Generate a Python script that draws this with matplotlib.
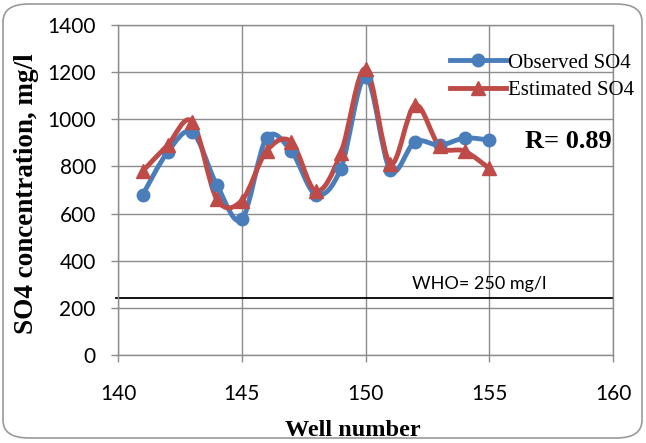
import numpy as np
import matplotlib
matplotlib.use("Agg")
import matplotlib.pyplot as plt
from matplotlib.path import Path
from matplotlib.patches import PathPatch, FancyBboxPatch
from matplotlib.lines import Line2D

# well numbers and SO4 values (mg/l)
wells = [141, 142, 143, 144, 145, 146, 147, 148, 149, 150, 151, 152, 153, 154, 155]
observed = [680, 860, 945, 720, 575, 920, 865, 680, 790, 1180, 785, 905, 890, 920, 912]
estimated = [780, 890, 990, 660, 655, 865, 905, 695, 855, 1215, 812, 1060, 885, 865, 792]
who_limit = 242

BLUE = "#4a7ebb"
RED = "#be4b48"
GRID = "#8c8c8c"


def smooth_path(x, y):
    # excel style smoothed line: catmull-rom segments as cubic beziers
    x = np.asarray(x, float)
    y = np.asarray(y, float)
    n = len(x)
    verts = [(x[0], y[0])]
    codes = [Path.MOVETO]
    for i in range(n - 1):
        p0 = np.array([x[max(i - 1, 0)], y[max(i - 1, 0)]])
        p1 = np.array([x[i], y[i]])
        p2 = np.array([x[i + 1], y[i + 1]])
        p3 = np.array([x[min(i + 2, n - 1)], y[min(i + 2, n - 1)]])
        c1 = p1 + (p2 - p0) / 6.0
        c2 = p2 - (p3 - p1) / 6.0
        verts += [tuple(c1), tuple(c2), tuple(p2)]
        codes += [Path.CURVE4] * 3
    return Path(verts, codes)


fig = plt.figure(figsize=(6.46, 4.43), dpi=100)
ax = fig.add_axes([118 / 646, 1 - 355 / 443, (613 - 118) / 646, (355 - 25) / 443])

ax.set_xlim(140, 160)
ax.set_ylim(0, 1400)
ax.set_xticks(np.arange(140, 161, 5))
ax.set_yticks(np.arange(0, 1401, 200))
ax.grid(True, color=GRID, linewidth=1.0)
ax.set_axisbelow(True)
for s in ax.spines.values():
    s.set_color(GRID)
    s.set_linewidth(1.0)
ax.tick_params(axis="both", colors=GRID, length=5, width=1.0, labelsize=15,
               labelcolor="black")
ax.tick_params(axis="x", pad=16)
ax.tick_params(axis="y", pad=11)
for lab in ax.get_xticklabels() + ax.get_yticklabels():
    lab.set_family("Lato")

ax.axhline(who_limit, color="black", linewidth=1.3, xmin=-0.005, zorder=2, clip_on=False)
ax.text(154.6, 303, "WHO= 250 mg/l", family="Lato", fontsize=13, ha="center", va="center")

for ys, col, mk, ms in [(observed, BLUE, "o", 9), (estimated, RED, "^", 9.5)]:
    ax.add_patch(PathPatch(smooth_path(wells, ys), facecolor="none", edgecolor=col,
                           linewidth=3.5, capstyle="round", joinstyle="round", zorder=3))
    ax.plot(wells, ys, linestyle="none", marker=mk, color=col, markersize=ms, zorder=4)

ax.text(158.2, 905, "R= 0.89", family="Liberation Serif", fontweight="bold",
        fontsize=19, ha="center", va="center")

handles = [Line2D([], [], color=BLUE, marker="o", linewidth=3.5, markersize=9),
           Line2D([], [], color=RED, marker="^", linewidth=3.5, markersize=9.5)]
ax.legend(handles, ["Observed SO4", "Estimated SO4"], loc="upper left",
          bbox_to_anchor=(0.671, 0.915), frameon=False, handlelength=2.7,
          handletextpad=0.1, labelspacing=0.38, borderaxespad=0.0, borderpad=0.0,
          prop={"family": "Liberation Serif", "size": 15})

ax.set_xlabel("Well number", family="Liberation Serif", fontweight="bold", fontsize=17.5)
ax.set_ylabel("SO4 concentration, mg/l", family="Liberation Serif", fontweight="bold",
              fontsize=19.5)
ax.xaxis.set_label_coords(0.475, -0.197)
ax.yaxis.set_label_coords(-0.16, 0.49)

fig.patches.append(FancyBboxPatch((3 / 646, 5 / 443), 639 / 646, 434 / 443,
                                  boxstyle="round,pad=0,rounding_size=0.04",
                                  transform=fig.transFigure, facecolor="none",
                                  edgecolor="#999999", linewidth=1.2))

fig.savefig("out.png", dpi=100)
